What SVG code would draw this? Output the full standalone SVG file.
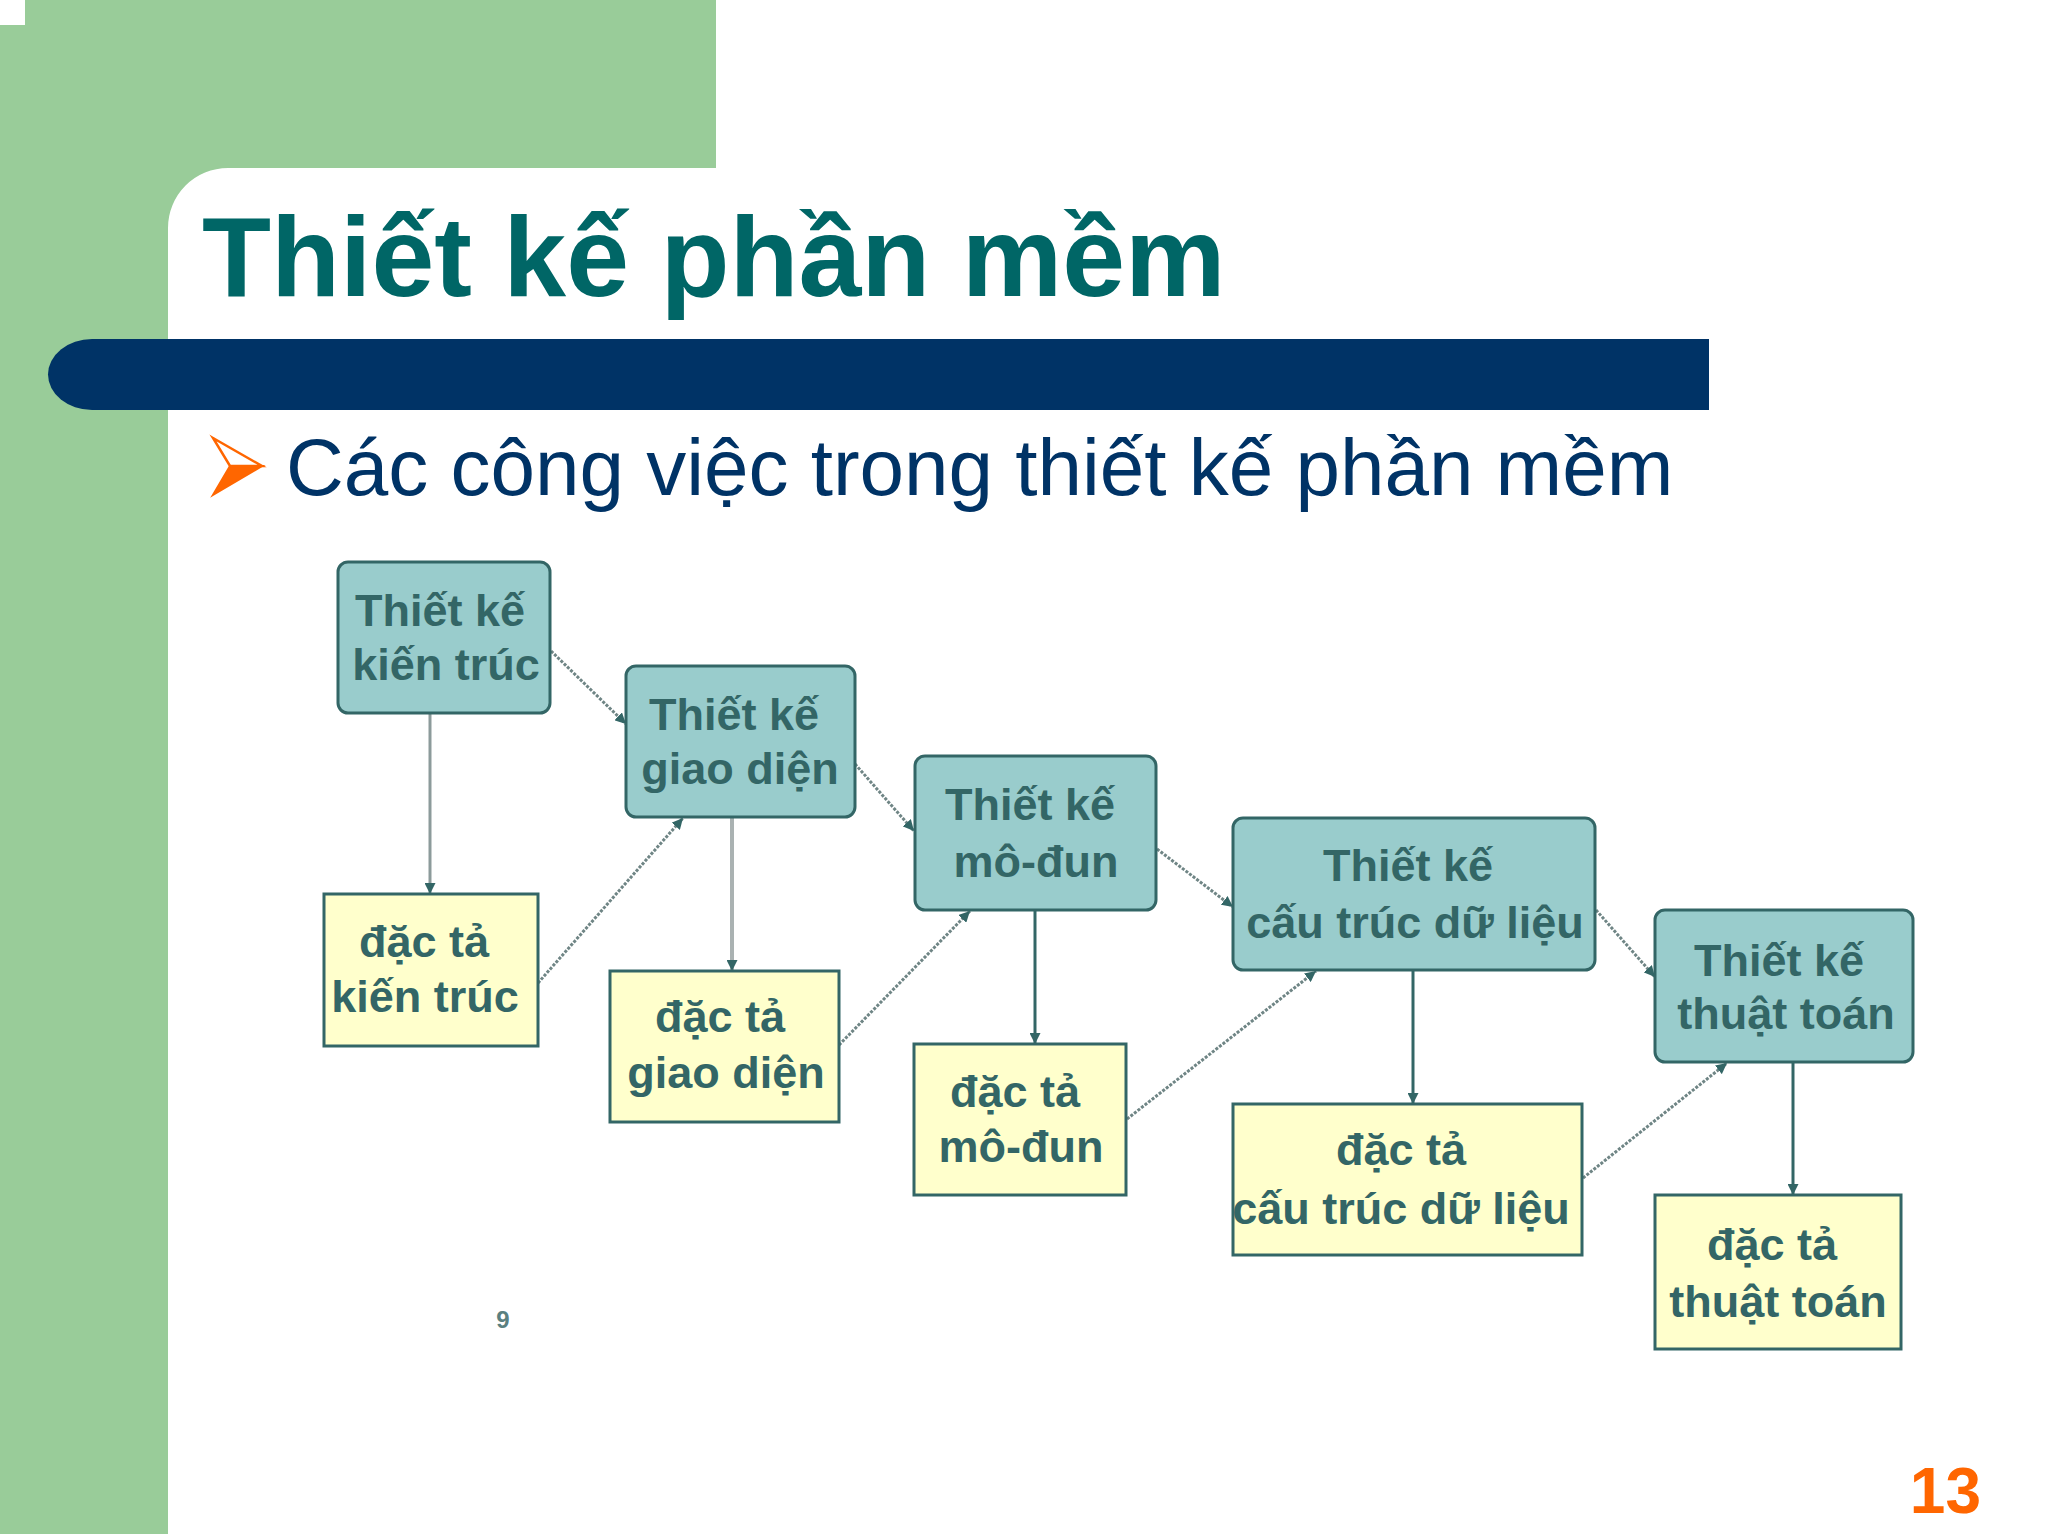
<svg xmlns="http://www.w3.org/2000/svg" width="2048" height="1534" viewBox="0 0 2048 1534">
<defs>
<style>
.title{font-family:"Liberation Sans",Arial,sans-serif;font-weight:bold;font-size:113px;fill:#006666}
.sub{font-family:"Liberation Sans",Arial,sans-serif;font-size:80px;fill:#003366}
.nt{font-family:"Liberation Sans",Arial,sans-serif;font-weight:bold;font-size:45px;fill:#336666;text-anchor:middle}
.design{fill:#99CCCC;stroke:#336666;stroke-width:3}
.spec{fill:#FFFFCC;stroke:#336666;stroke-width:3}
.vline{fill:none;stroke:#336666;stroke-width:3}
.dline{fill:none;stroke:#6f8585;stroke-width:3;stroke-dasharray:3 1.5}
</style>
<marker id="arr" viewBox="0 0 10 10" refX="10" refY="5" markerWidth="11" markerHeight="11" markerUnits="userSpaceOnUse" orient="auto">
<path d="M0,0 L10,5 L0,10 z" fill="#336666"/>
</marker>
</defs>
<rect x="0" y="0" width="2048" height="1534" fill="#ffffff"/>
<g id="background">
<path d="M0 0 H716 V168 H228 A60 60 0 0 0 168 228 V1534 H0 Z" fill="#99CC99"/>
<rect x="0" y="0" width="25" height="25" fill="#ffffff"/>
<path d="M1709 339 H92 A44 35.5 0 0 0 92 410 H1709 Z" fill="#003366"/>
</g>
<g id="title">
<text class="title" x="202" y="296">Thiết kế phần mềm</text>
</g>
<g id="bullet">
<polygon points="213,495 262,466 230,466" fill="#FF6600" stroke="#FF6600" stroke-width="2" stroke-linejoin="miter"/>
<polygon points="213,438 262,466 230,466" fill="#ffffff" stroke="#FF6600" stroke-width="2.5" stroke-linejoin="miter"/>
<text class="sub" x="286" y="495">Các công việc trong thiết kế phần mềm</text>
</g>
<g id="connectors">
<line x1="430" y1="713" x2="430" y2="894" class="vline" style="stroke:#8c9b9b" marker-end="url(#arr)"/>
<line x1="732" y1="817" x2="732" y2="971" class="vline" style="stroke:#aab2b2;stroke-width:4" marker-end="url(#arr)"/>
<line x1="1035" y1="910" x2="1035" y2="1044" class="vline" marker-end="url(#arr)"/>
<line x1="1413" y1="970" x2="1413" y2="1104" class="vline" marker-end="url(#arr)"/>
<line x1="1793" y1="1062" x2="1793" y2="1195" class="vline" marker-end="url(#arr)"/>
<line x1="551" y1="651" x2="626" y2="724" class="dline" marker-end="url(#arr)"/>
<line x1="538" y1="983" x2="683" y2="818" class="dline" marker-end="url(#arr)"/>
<line x1="855" y1="764" x2="914" y2="831" class="dline" marker-end="url(#arr)"/>
<line x1="839" y1="1045" x2="970" y2="911" class="dline" marker-end="url(#arr)"/>
<line x1="1157" y1="849" x2="1233" y2="907" class="dline" marker-end="url(#arr)"/>
<line x1="1127" y1="1119" x2="1316" y2="971" class="dline" marker-end="url(#arr)"/>
<line x1="1596" y1="910" x2="1655" y2="977" class="dline" marker-end="url(#arr)"/>
<line x1="1583" y1="1178" x2="1727" y2="1063" class="dline" marker-end="url(#arr)"/>
</g>
<g id="tk-kientruc">
<rect class="design" x="338" y="562" width="212" height="151" rx="10"/>
<text class="nt" x="440" y="626">Thiết kế</text>
<text class="nt" x="446" y="680">kiến trúc</text>
</g>
<g id="dt-kientruc">
<rect class="spec" x="324" y="894" width="214" height="152"/>
<text class="nt" x="424" y="957">đặc tả</text>
<text class="nt" x="425" y="1012">kiến trúc</text>
</g>
<g id="tk-giaodien">
<rect class="design" x="626" y="666" width="229" height="151" rx="10"/>
<text class="nt" x="734" y="730">Thiết kế</text>
<text class="nt" x="740" y="784">giao diện</text>
</g>
<g id="dt-giaodien">
<rect class="spec" x="610" y="971" width="229" height="151"/>
<text class="nt" x="720" y="1032">đặc tả</text>
<text class="nt" x="726" y="1088">giao diện</text>
</g>
<g id="tk-modun">
<rect class="design" x="915" y="756" width="241" height="154" rx="10"/>
<text class="nt" x="1030" y="820">Thiết kế</text>
<text class="nt" x="1036" y="877">mô-đun</text>
</g>
<g id="dt-modun">
<rect class="spec" x="914" y="1044" width="212" height="151"/>
<text class="nt" x="1015" y="1107">đặc tả</text>
<text class="nt" x="1021" y="1162">mô-đun</text>
</g>
<g id="tk-ctdl">
<rect class="design" x="1233" y="818" width="362" height="152" rx="10"/>
<text class="nt" x="1408" y="881">Thiết kế</text>
<text class="nt" x="1415" y="938">cấu trúc dữ liệu</text>
</g>
<g id="dt-ctdl">
<rect class="spec" x="1233" y="1104" width="349" height="151"/>
<text class="nt" x="1401" y="1165">đặc tả</text>
<text class="nt" x="1401" y="1224">cấu trúc dữ liệu</text>
</g>
<g id="tk-thuattoan">
<rect class="design" x="1655" y="910" width="258" height="152" rx="10"/>
<text class="nt" x="1779" y="976">Thiết kế</text>
<text class="nt" x="1786" y="1029">thuật toán</text>
</g>
<g id="dt-thuattoan">
<rect class="spec" x="1655" y="1195" width="246" height="154"/>
<text class="nt" x="1772" y="1260">đặc tả</text>
<text class="nt" x="1778" y="1317">thuật toán</text>
</g>
<g id="footer">
<text x="503" y="1328" font-family="Liberation Sans, Arial, sans-serif" font-weight="bold" font-size="24" fill="#5a8080" text-anchor="middle">9</text>
<text x="1981" y="1513" font-family="Liberation Sans, Arial, sans-serif" font-weight="bold" font-size="64" fill="#FF6600" text-anchor="end">13</text>
</g>
</svg>
